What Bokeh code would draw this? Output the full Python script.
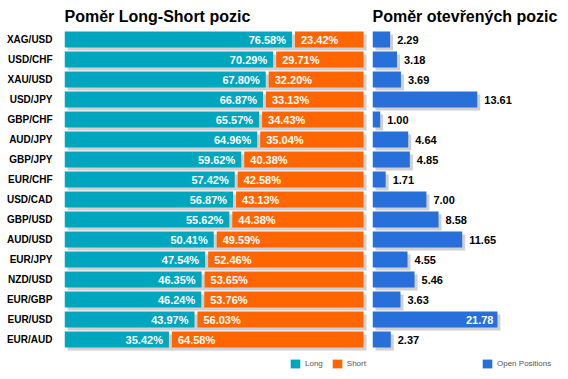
from bokeh.plotting import figure
from bokeh.layouts import row
from bokeh.models import (ColumnDataSource, Range1d, FixedTicker, Legend, LegendItem, Label)
from bokeh.core.properties import value
from bokeh.embed import file_html
from bokeh.resources import INLINE

pairs = ["XAG/USD", "USD/CHF", "XAU/USD", "USD/JPY", "GBP/CHF", "AUD/JPY", "GBP/JPY", "EUR/CHF",
         "USD/CAD", "GBP/USD", "AUD/USD", "EUR/JPY", "NZD/USD", "EUR/GBP", "EUR/USD", "EUR/AUD"]
long_pct = [76.58, 70.29, 67.80, 66.87, 65.57, 64.96, 59.62, 57.42,
            56.87, 55.62, 50.41, 47.54, 46.35, 46.24, 43.97, 35.42]
short_pct = [23.42, 29.71, 32.20, 33.13, 34.43, 35.04, 40.38, 42.58,
             43.13, 44.38, 49.59, 52.46, 53.65, 53.76, 56.03, 64.58]
open_pos = [2.29, 3.18, 3.69, 13.61, 1.00, 4.64, 4.85, 1.71,
            7.00, 8.58, 11.65, 4.55, 5.46, 3.63, 21.78, 2.37]
open_axis_max = 16.23

LONG_C = "#00A5BE"
SHORT_C = "#FF6600"
OPEN_C = "#276FD9"
SHADOW_C = "#D0D0D0"
FONT = value("Liberation Sans")

H = 376
PITCH = 20.0
FIRST_CENTER = 39.0
y_top = -FIRST_CENTER / PITCH
y_bot = (H - FIRST_CENTER) / PITCH
BAR_H = 0.8
SH_Y = 3 / PITCH
TITLE_Y = H - 16
LEG_Y = 7

n = len(pairs)
ys = list(range(n))

# ---------------- Left chart ----------------
L_W = 368
L_BORDER = 64
L_PX = 2.99
l_xend = (L_W - L_BORDER) / L_PX
p1 = figure(width=L_W, height=H, output_backend="svg", toolbar_location=None,
            x_range=Range1d(0, l_xend), y_range=Range1d(y_bot, y_top),
            x_axis_location=None, min_border_left=L_BORDER, min_border_right=0,
            min_border_top=0, min_border_bottom=0)
p1.outline_line_color = None
p1.grid.visible = False
p1.background_fill_color = "white"
p1.border_fill_color = "white"

sx1 = 3 / L_PX
gap = 0.5
src1 = ColumnDataSource(dict(
    y=ys,
    long_r=[v - gap for v in long_pct],
    short_l=[v + gap for v in long_pct],
    total=[a + b for a, b in zip(long_pct, short_pct)],
    sh_top=[y - BAR_H / 2 + SH_Y for y in ys],
    sh_bot=[y + BAR_H / 2 + SH_Y for y in ys],
    top=[y - BAR_H / 2 for y in ys],
    bot=[y + BAR_H / 2 for y in ys],
    sh_l=[sx1] * n,
    sh_r=[a + b + sx1 for a, b in zip(long_pct, short_pct)],
    zero=[0] * n,
    long_lab=["%.2f%%" % v for v in long_pct],
    short_lab=["%.2f%%" % v for v in short_pct],
    long_tx=[v - gap - 6 / L_PX for v in long_pct],
    short_tx=[v + gap + 6 / L_PX for v in long_pct],
))
p1.quad(left="sh_l", right="sh_r", top="sh_top", bottom="sh_bot", source=src1,
        fill_color=SHADOW_C, line_color=None)
r_long = p1.quad(left="zero", right="long_r", top="top", bottom="bot", source=src1,
                 fill_color=LONG_C, line_color=None)
r_short = p1.quad(left="short_l", right="total", top="top", bottom="bot", source=src1,
                  fill_color=SHORT_C, line_color=None)
p1.text(x="long_tx", y="y", text="long_lab", source=src1, text_align="right",
        text_baseline="middle", text_color="white", text_font=FONT,
        text_font_size="11px", text_font_style="bold")
p1.text(x="short_tx", y="y", text="short_lab", source=src1, text_align="left",
        text_baseline="middle", text_color="white", text_font=FONT,
        text_font_size="11px", text_font_style="bold")

yax = p1.yaxis[0]
yax.ticker = FixedTicker(ticks=ys)
yax.major_label_overrides = {i: s for i, s in enumerate(pairs)}
yax.axis_line_color = None
yax.major_tick_line_color = None
yax.minor_tick_line_color = None
yax.major_label_text_font = "Liberation Sans"
yax.major_label_text_font_style = "bold"
yax.major_label_text_font_size = "10px"
yax.major_label_text_color = "black"
yax.major_label_standoff = 6

p1.add_layout(Label(x=0, y=TITLE_Y, x_units="screen", y_units="screen",
                    text="Poměr Long-Short pozic", text_font="Liberation Sans",
                    text_font_style="bold", text_font_size="16px",
                    text_baseline="alphabetic", text_color="black"))

leg1 = Legend(items=[LegendItem(label="Long", renderers=[r_long]),
                     LegendItem(label="Short", renderers=[r_short])],
              location=(225, LEG_Y), orientation="horizontal", spacing=8,
              label_standoff=4, glyph_width=12, glyph_height=11, label_height=11,
              label_width=10,
              padding=0, margin=0, border_line_color=None, background_fill_alpha=0,
              label_text_font="Liberation Sans", label_text_font_size="8px",
              label_text_color="#555555")
p1.add_layout(leg1)

# ---------------- Right chart ----------------
R_W = 200
R_BORDER = 4
R_PX = 7.7
r_xend = (R_W - R_BORDER) / R_PX
p2 = figure(width=R_W, height=H, output_backend="svg", toolbar_location=None,
            x_range=Range1d(0, r_xend), y_range=Range1d(y_bot, y_top),
            x_axis_location=None, y_axis_location=None,
            min_border_left=R_BORDER, min_border_right=0,
            min_border_top=0, min_border_bottom=0)
p2.outline_line_color = None
p2.grid.visible = False
p2.background_fill_color = "white"
p2.border_fill_color = "white"

sx2 = 3 / R_PX
drawn = [min(v, open_axis_max) for v in open_pos]
inside = [v > open_axis_max for v in open_pos]
src2 = ColumnDataSource(dict(
    y=ys,
    val=drawn,
    zero=[0] * n,
    top=[y - BAR_H / 2 for y in ys],
    bot=[y + BAR_H / 2 for y in ys],
    sh_top=[y - BAR_H / 2 + SH_Y for y in ys],
    sh_bot=[y + BAR_H / 2 + SH_Y for y in ys],
    sh_l=[sx2] * n,
    sh_r=[v + sx2 for v in drawn],
))
p2.quad(left="sh_l", right="sh_r", top="sh_top", bottom="sh_bot", source=src2,
        fill_color=SHADOW_C, line_color=None)
r_open = p2.quad(left="zero", right="val", top="top", bottom="bot", source=src2,
                 fill_color=OPEN_C, line_color=None)

out_idx = [i for i in range(n) if not inside[i]]
in_idx = [i for i in range(n) if inside[i]]
src_out = ColumnDataSource(dict(
    x=[drawn[i] + 7 / R_PX for i in out_idx],
    y=[ys[i] for i in out_idx],
    t=["%.2f" % open_pos[i] for i in out_idx]))
src_in = ColumnDataSource(dict(
    x=[drawn[i] - 4 / R_PX for i in in_idx],
    y=[ys[i] for i in in_idx],
    t=["%.2f" % open_pos[i] for i in in_idx]))
p2.text(x="x", y="y", text="t", source=src_out, text_align="left",
        text_baseline="middle", text_color="black", text_font=FONT,
        text_font_size="11px", text_font_style="bold")
p2.text(x="x", y="y", text="t", source=src_in, text_align="right",
        text_baseline="middle", text_color="white", text_font=FONT,
        text_font_size="11px", text_font_style="bold")

p2.add_layout(Label(x=0, y=TITLE_Y, x_units="screen", y_units="screen",
                    text="Poměr otevřených pozic", text_font="Liberation Sans",
                    text_font_style="bold", text_font_size="16px",
                    text_baseline="alphabetic", text_color="black"))

leg2 = Legend(items=[LegendItem(label="Open Positions", renderers=[r_open])],
              location=(109, LEG_Y), orientation="horizontal", spacing=8,
              label_standoff=4, glyph_width=12, glyph_height=11, label_height=11,
              label_width=10,
              padding=0, margin=0, border_line_color=None, background_fill_alpha=0,
              label_text_font="Liberation Sans", label_text_font_size="8px",
              label_text_color="#555555")
p2.add_layout(leg2)

layout = row(p1, p2, spacing=0)
open("out.html", "w").write(file_html(layout, INLINE))
